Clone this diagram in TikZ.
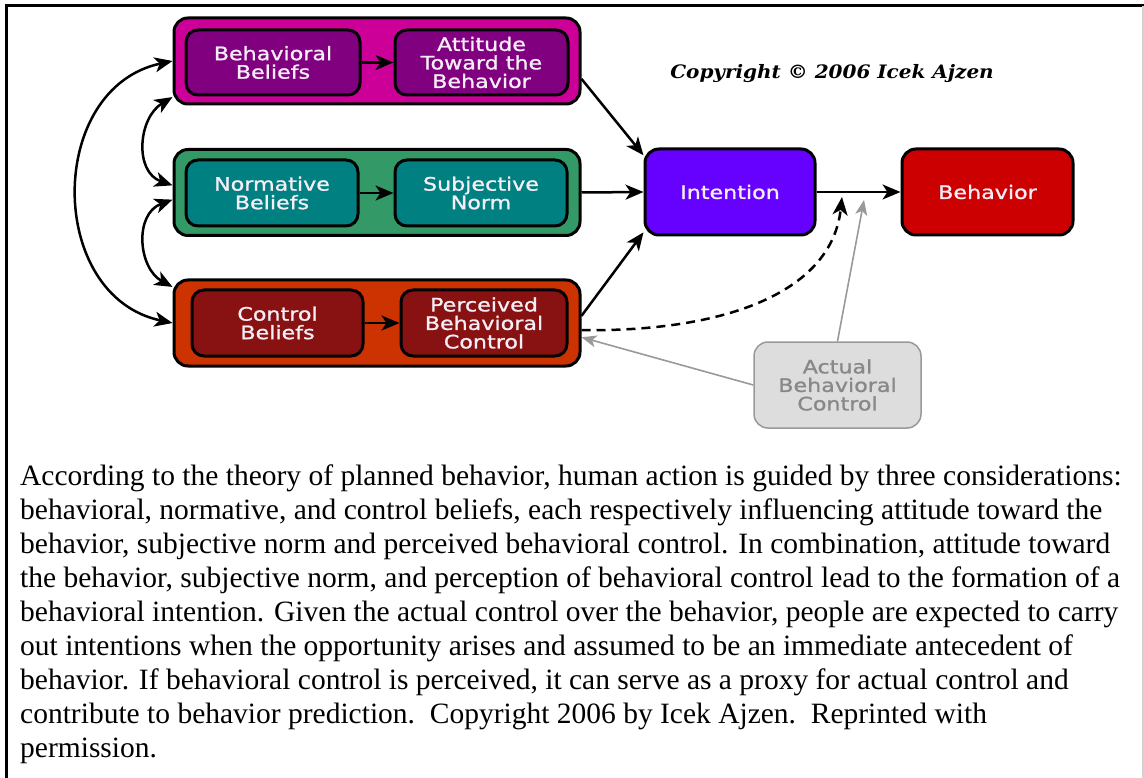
\documentclass[tikz,border=0pt]{standalone}
\usepackage{fontspec}
\setmainfont{Liberation Serif}
\newfontfamily\lblfont[FakeStretch=1.2,FakeBold=1.2]{DejaVu Sans}
\newfontfamily\notefont[FakeStretch=1.08]{DejaVu Serif}
\usetikzlibrary{arrows.meta,calc}

\definecolor{grpA}{HTML}{CC0099}
\definecolor{inA}{HTML}{800080}
\definecolor{grpB}{HTML}{339966}
\definecolor{inB}{HTML}{008080}
\definecolor{grpC}{HTML}{CC3300}
\definecolor{inC}{HTML}{881111}
\definecolor{intentcol}{HTML}{6600FF}
\definecolor{behavcol}{HTML}{CC0000}
\definecolor{actualfill}{HTML}{DDDDDD}
\definecolor{actualline}{HTML}{999999}
\definecolor{actualtext}{HTML}{888888}
\definecolor{lbltext}{HTML}{F6EEF6}

\begin{document}
\begin{tikzpicture}[x=1pt,y=-1pt,
  group/.style={draw=black, line width=3pt, rounded corners=14pt,
    minimum width=406pt, minimum height=86pt, inner sep=0pt},
  inbox/.style={draw=black, line width=3pt, rounded corners=12pt,
    minimum height=65pt, inner sep=0pt, align=center, text=lbltext,
    font=\lblfont\fontsize{18.5}{18.5}\selectfont},
  bigbox/.style={inbox, minimum width=170pt, minimum height=86pt, rounded corners=14pt},
  tip/.tip={Stealth[length=18pt,width=15pt,inset=5pt]},
  conn/.style={line width=2.5pt, -tip},
  twoway/.style={line width=2.5pt, tip-tip},
  grayconn/.style={draw=actualline, line width=1.6pt, -{Stealth[length=15pt,width=12pt,inset=4pt]}},
]
\useasboundingbox (0,0) rectangle (1144,778);

% page frame
\draw[line width=3pt] (6,778) -- (6,6) -- (1144,6);
\draw[gray!35, line width=1.5pt] (1143,6) -- (1143,778);

% belief groups
\node[group, fill=grpA] (gA) at (377,61) {};
\node[group, fill=grpB] (gB) at (377,192.5) {};
\node[group, fill=grpC] (gC) at (377,323) {};

\node[inbox, fill=inA, minimum width=174pt] (bb) at (273,62.5) {Behavioral\\Beliefs};
\node[inbox, fill=inA, minimum width=173pt] (att) at (481.5,62.5) {Attitude\\Toward the\\Behavior};
\node[inbox, fill=inB, minimum width=172pt, minimum height=66pt] (nb) at (272,193) {Normative\\Beliefs};
\node[inbox, fill=inB, minimum width=172pt, minimum height=66pt] (sn) at (481,193) {Subjective\\Norm};
\node[inbox, fill=inC, minimum width=171pt, minimum height=66pt] (cb) at (277.5,323) {Control\\Beliefs};
\node[inbox, fill=inC, minimum width=166pt, minimum height=66pt] (pbc) at (484,323) {Perceived\\Behavioral\\Control};

% intention, behavior, actual control
\node[bigbox, fill=intentcol] (int) at (730,192) {Intention};
\node[bigbox, fill=behavcol, minimum width=171pt] (beh) at (987.5,192) {Behavior};
\node[bigbox, fill=actualfill, draw=actualline, line width=1.5pt, text=actualtext,
  minimum width=167pt] (abc) at (837.5,385) {Actual\\Behavioral\\Control};

% copyright note
\node[font=\notefont\bfseries\itshape\fontsize{18.5}{20}\selectfont] (copy) at (832,74)
  {Copyright \textcopyright{} 2006 Icek Ajzen};

% joins on the intention-behavior link
\coordinate (j1) at (842,197);
\coordinate (j2) at (864,200);

% arrows inside groups
\draw[conn] (bb.east) -- (att.west);
\draw[conn] (nb.east) -- (sn.west);
\draw[conn] (cb.east) -- (pbc.west);

% into intention and behavior
\draw[conn] (gA.-5) -- (int.157);
\draw[conn] (gB.east) -- (int.west);
\draw[conn] (gC.2) -- (int.205);
\draw[conn] (int.east) -- (beh.west);

% perceived control moderating intention
\draw[conn, dash pattern=on 9pt off 6pt] (gC.-2) .. controls (730,332) and (832,290) .. (j1);

% actual control
\draw[grayconn] (abc.north) -- (j2);
\draw[grayconn] (abc.west) -- (gC.-4.5);

% correlations among beliefs
\draw[twoway] (gA.west) .. controls (46,88) and (46,296) .. (gC.west);
\draw[twoway] (gA.190) .. controls (138,118) and (134,172) .. (gB.178);
\draw[twoway] (gB.182) .. controls (134,214) and (138,268) .. (gC.170);

% explanatory text
\node[anchor=north west, align=left, inner sep=0pt,
  font=\fontsize{29.5}{34}\selectfont] (body) at (20,465)
{According to the theory of planned behavior, human action is guided by three considerations:\\
behavioral, normative, and control beliefs, each respectively influencing attitude toward the\\
behavior, subjective norm and perceived behavioral control. In combination, attitude toward\\
the behavior, subjective norm, and perception of behavioral control lead to the formation of a\\
behavioral intention. Given the actual control over the behavior, people are expected to carry\\
out intentions when the opportunity arises and assumed to be an immediate antecedent of\\
behavior. If behavioral control is perceived, it can serve as a proxy for actual control and\\
contribute to behavior prediction.\ \ Copyright 2006 by Icek Ajzen.\ \ Reprinted with\\
permission.};
\end{tikzpicture}
\end{document}
